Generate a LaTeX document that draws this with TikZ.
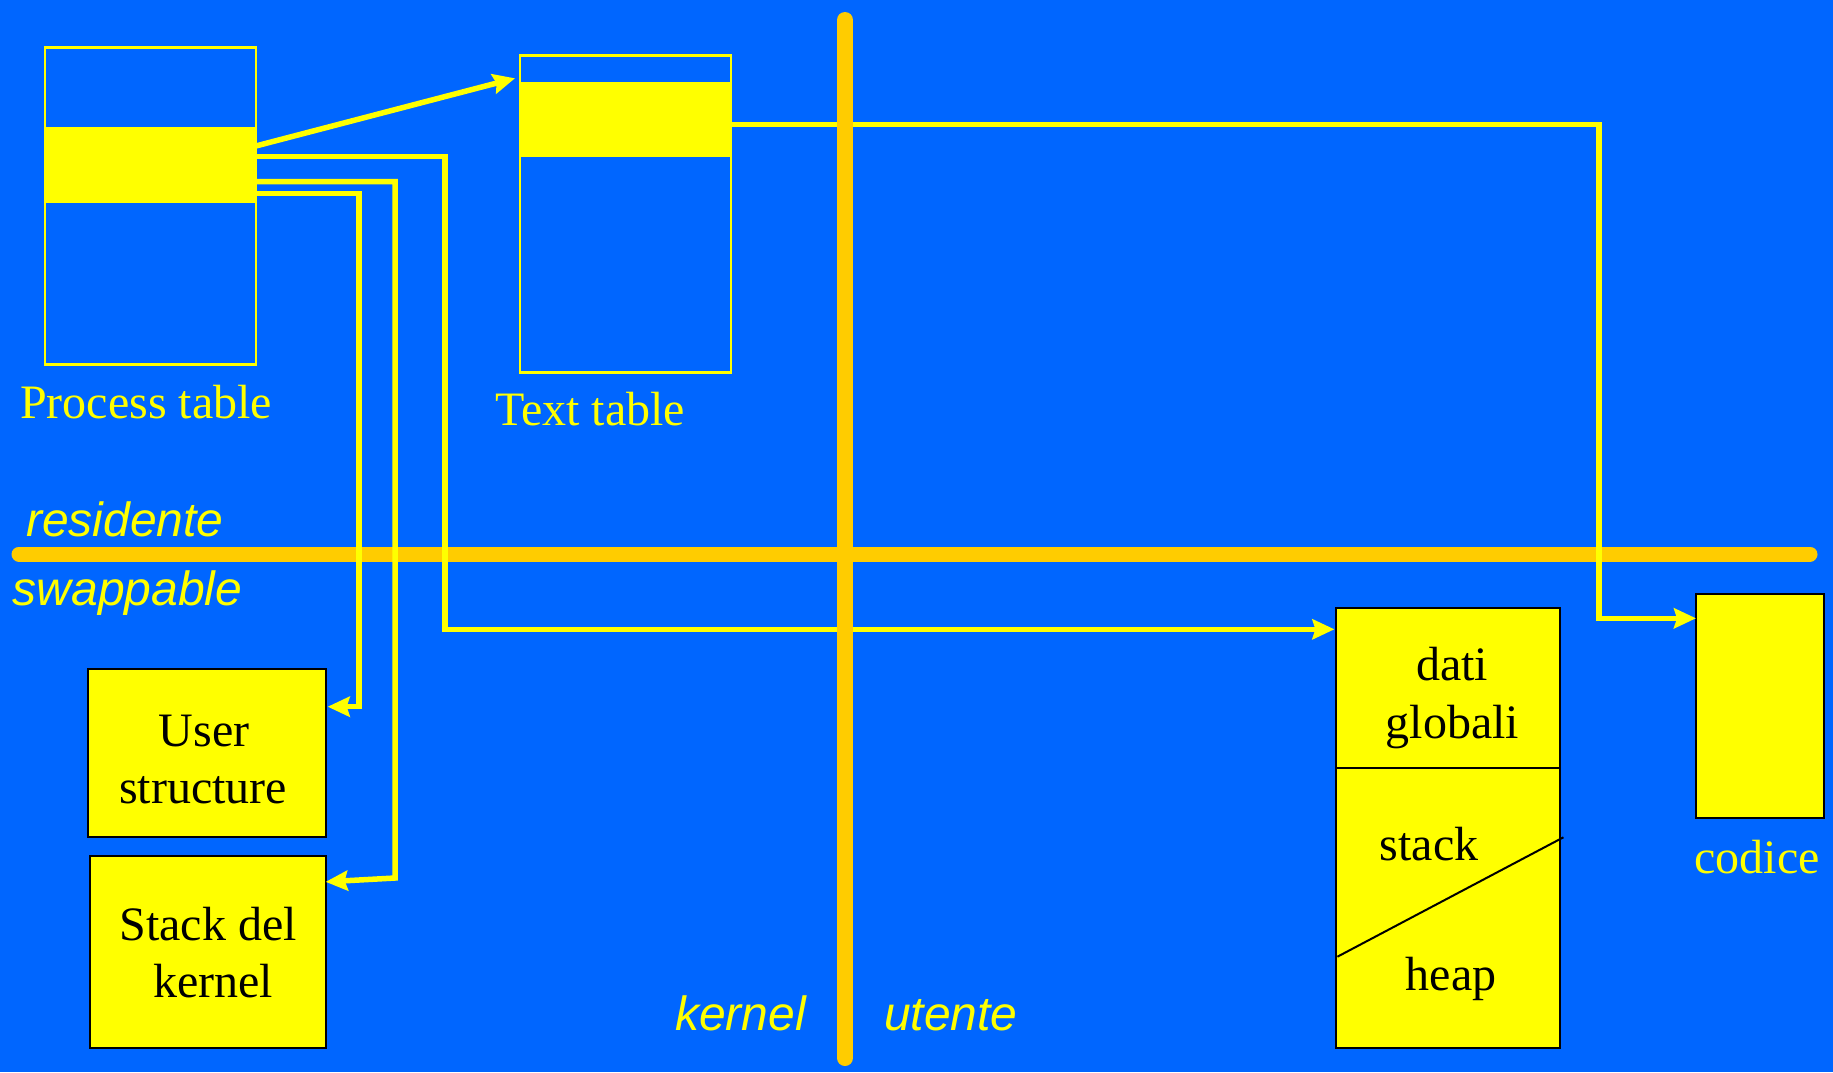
\documentclass[tikz,border=0pt]{standalone}
\usepackage{fontspec}
\setmainfont{Liberation Serif}
\setsansfont{Liberation Sans}
\usetikzlibrary{arrows.meta}
\definecolor{bgblue}{HTML}{0066FF}
\definecolor{ylw}{HTML}{FFFF00}
\definecolor{orng}{HTML}{FFCC00}
\tikzset{
  tbl/.style={draw=ylw, line width=2.5pt, anchor=north west, inner sep=0pt, outer sep=0pt},
  band/.style={fill=ylw, anchor=north west, inner sep=0pt, outer sep=0pt},
  memblk/.style={draw=black, line width=2pt, fill=ylw, anchor=north west, inner sep=0pt, outer sep=0pt},
  conn/.style={draw=ylw, line width=5.5pt},
  arr/.style={conn, -{Stealth[length=22pt,width=20pt,inset=3pt]}},
  divider/.style={draw=orng, line width=15pt, line cap=round},
  serifbig/.style={font=\fontsize{48}{56}\selectfont, inner sep=0pt},
  blacktxt/.style={serifbig, text=black, anchor=base},
  ylwtxt/.style={serifbig, text=ylw},
  zonetxt/.style={font=\fontsize{48}{56}\sffamily\itshape\selectfont, text=ylw, inner sep=0pt, anchor=base west}
}
\begin{document}
\begin{tikzpicture}[x=1pt,y=-1pt]
\useasboundingbox[fill=bgblue] (0,0) rectangle (1833,1072);

% tables
\node[tbl, minimum width=211pt, minimum height=316.6pt] (ptab) at (44.8,47.7) {};
\node[band, minimum width=211pt, minimum height=76pt] (pband) at (44.8,127) {};
\node[tbl, minimum width=211pt, minimum height=317.4pt] (ttab) at (520,55.3) {};
\node[band, minimum width=211pt, minimum height=75.6pt] (tband) at (520,81.7) {};

\node[ylwtxt, anchor=base west] (plabel) at (20,418) {Process table};
\node[ylwtxt, anchor=base west] (tlabel) at (495,425) {Text table};

% memory blocks
\node[memblk, minimum width=238pt, minimum height=168pt] (user) at (87.7,669) {};
\node[memblk, minimum width=235.4pt, minimum height=191.7pt] (kstack) at (90.3,856) {};
\node[memblk, minimum width=224pt, minimum height=439.4pt] (dati) at (1336.4,608.3) {};
\node[memblk, minimum width=127.8pt, minimum height=224pt] (codice) at (1696,594.3) {};

\draw[black, line width=2pt] (dati.west |- 0,768.3) -- (dati.east |- 0,768.3);
\draw[black, line width=2pt] (1337.4,956.7) -- (1563.4,837.3);

\node[blacktxt] (tuser1) at (204,746.7) {User};
\node[blacktxt] (tuser2) at (203,803) {structure};
\node[blacktxt] (tks1) at (208,940) {Stack del};
\node[blacktxt] (tks2) at (213,997.7) {kernel};
\node[blacktxt] (tdati1) at (1452,680) {dati};
\node[blacktxt] (tdati2) at (1452.6,738.3) {globali};
\node[blacktxt] (tstack) at (1429,860) {stack};
\node[blacktxt] (theap) at (1451,990) {heap};
\node[ylwtxt, anchor=base] (tcod) at (1757,873) {codice};

% zone labels
\node[zonetxt] (lres) at (26,536) {residente};
\node[zonetxt] (lswap) at (12.6,605) {swappable};
\node[zonetxt] (lker) at (675,1030) {kernel};
\node[zonetxt] (lute) at (884,1030) {utente};

% horizontal divider
\draw[divider] (19,554) -- (1810,554);

% connectors
\draw[arr] ([yshift=19pt]pband.east) -- ([xshift=-5pt,yshift=-23pt]ttab.north west);
\draw[arr] ([yshift=8.3pt]pband.east) -| (445,629.3) -- ([xshift=-2pt,yshift=198.7pt]dati.west);
\draw[arr] ([yshift=-16.7pt]pband.east) -| (395,878) -- ([yshift=70pt]kstack.east);
\draw[arr] ([yshift=-28.7pt]pband.east) -| (359,706.7) -- ([xshift=2pt,yshift=46.3pt]user.east);
\draw[arr] ([yshift=-5pt]tband.east) -| (1599,618.3) -- ([yshift=88pt]codice.west);

% vertical divider
\draw[divider, line width=16pt] (845,20) -- (845,1058);
\end{tikzpicture}
\end{document}
